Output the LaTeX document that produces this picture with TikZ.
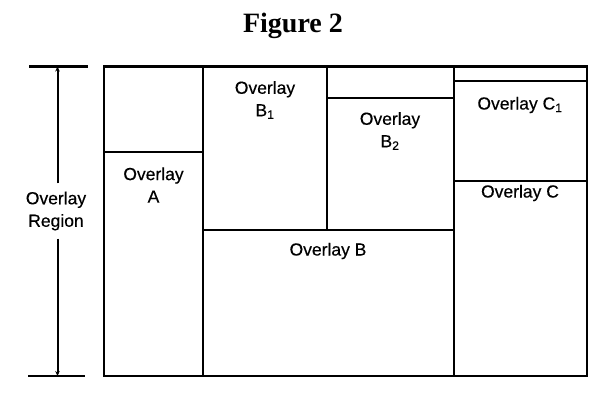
\documentclass[tikz,border=0pt]{standalone}
\usepackage{fontspec}
\setmainfont{Liberation Sans}[FakeBold=0.4]
\newfontfamily\titlefont{Liberation Serif}
\usetikzlibrary{arrows.meta}
\begin{document}
\begin{tikzpicture}[x=1pt,y=-1pt,
  boxline/.style={line width=2.3pt},
  lbl/.style={font=\fontsize{17.5}{22.5}\selectfont, align=center, inner sep=0pt},
  dimarrow/.style={line width=2pt,-{Stealth[length=5pt,width=4.5pt]}}]
\useasboundingbox (0,0) rectangle (615,409);
% title
\node[font=\titlefont\bfseries\fontsize{28}{32}\selectfont, inner sep=0pt] (title) at (293,26) {Figure 2};
% outer frame
\draw[boxline] (104,66.5) rectangle (587,376);
% internal dividers
\draw[boxline] (203,66.5) -- (203,376);
\draw[boxline] (454,66.5) -- (454,376);
\draw[boxline] (104,152) -- (203,152);
\draw[boxline] (203,230) -- (454,230);
\draw[boxline] (327,66.5) -- (327,230);
\draw[boxline] (327,98) -- (454,98);
\draw[boxline] (454,81) -- (587,81);
\draw[boxline] (454,181) -- (587,181);
% labels
\node[lbl] (A)  at (153.5,185) {Overlay\\A};
\node[lbl] (B1) at (265,100) {Overlay\\B\textsubscript{1}};
\node[lbl] (B2) at (390,131) {Overlay\\B\textsubscript{2}};
\node[lbl] (C1) at (520,105) {Overlay C\textsubscript{1}};
\node[lbl] (C)  at (520,193) {Overlay C};
\node[lbl] (B)  at (328,251) {Overlay B};
\node[lbl, inner ysep=8pt] (R) at (56,211) {Overlay\\Region};
% dimension ticks
\coordinate (tt1) at (29,66.5); \coordinate (tt2) at (88,66.5);
\coordinate (bt1) at (28,376);  \coordinate (bt2) at (85,376);
\draw[boxline] (tt1) -- (tt2);
\draw[boxline] (bt1) -- (bt2);
\coordinate (atop) at (57.5,66.5);
\coordinate (abot) at (57.5,376);
\draw[dimarrow] (R.north -| atop) -- (atop);
\draw[dimarrow] (R.south -| abot) -- (abot);
\end{tikzpicture}
\end{document}
